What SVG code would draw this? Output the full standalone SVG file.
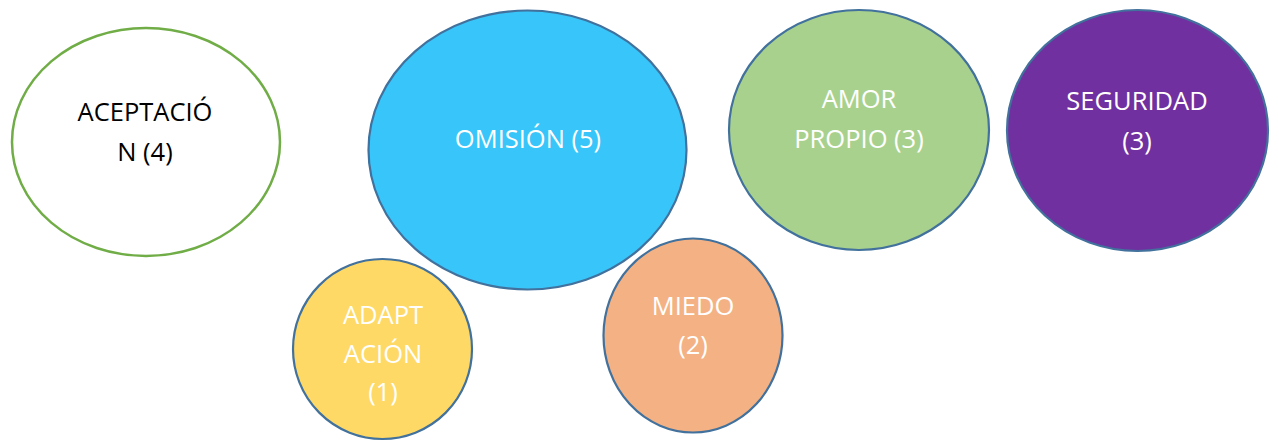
<svg xmlns="http://www.w3.org/2000/svg" width="1279" height="442" viewBox="0 0 1279 442">
<style>
.n{stroke:#41719C;stroke-width:2.2}
.t{font-family:"Open Sans","Noto Sans","Liberation Sans",sans-serif;font-size:25.5px;text-anchor:middle;fill:#ffffff}
.k{fill:#000000}
</style>
<rect width="1279" height="442" fill="#ffffff"/>
<g id="connectors"></g>
<g id="aceptacion">
<ellipse cx="146" cy="142" rx="134" ry="114" fill="#ffffff" stroke="#70AD47" stroke-width="2.5"/>
<text class="t k" x="145" y="121">ACEPTACIÓ</text>
<text class="t k" x="145" y="161">N (4)</text>
</g>
<g id="omision">
<ellipse class="n" cx="527.5" cy="150" rx="159" ry="139.5" fill="#38C5F9"/>
<text class="t" x="528" y="148">OMISIÓN (5)</text>
</g>
<g id="amorpropio">
<ellipse class="n" cx="859" cy="130" rx="130" ry="120" fill="#A9D18E"/>
<text class="t" x="859" y="108">AMOR</text>
<text class="t" x="859" y="148">PROPIO (3)</text>
</g>
<g id="seguridad">
<ellipse class="n" cx="1137.5" cy="130.5" rx="130.5" ry="120.5" fill="#7030A0"/>
<text class="t" x="1137" y="110">SEGURIDAD</text>
<text class="t" x="1137" y="150">(3)</text>
</g>
<g id="adaptacion">
<ellipse class="n" cx="382.5" cy="349" rx="89.5" ry="90" fill="#FFD966"/>
<text class="t" x="383" y="324">ADAPT</text>
<text class="t" x="383" y="363">ACIÓN</text>
<text class="t" x="383" y="401">(1)</text>
</g>
<g id="miedo">
<ellipse class="n" cx="693" cy="335.5" rx="89.5" ry="97" fill="#F4B183"/>
<text class="t" x="693" y="315">MIEDO</text>
<text class="t" x="693" y="354">(2)</text>
</g>
</svg>
